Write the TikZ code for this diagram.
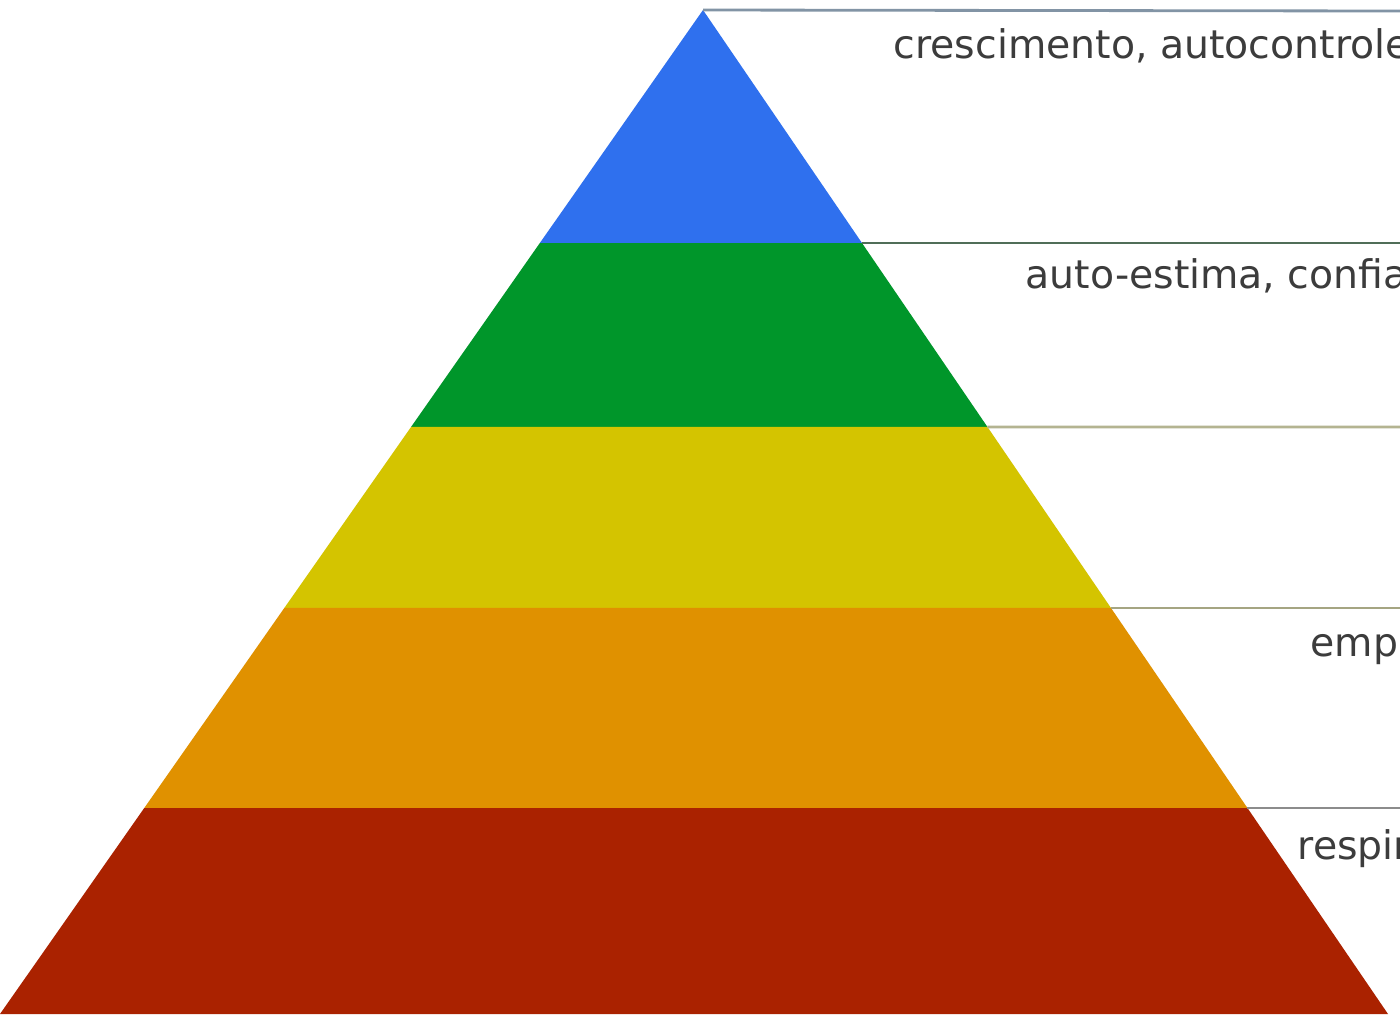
\documentclass[tikz,border=0pt]{standalone}
\usepackage{fontspec}
\setmainfont{DejaVu Sans}
\usetikzlibrary{calc}
\definecolor{cblue}{RGB}{47,112,238}
\definecolor{cgreen}{RGB}{0,150,42}
\definecolor{cyellow}{RGB}{212,196,0}
\definecolor{corange}{RGB}{224,145,0}
\definecolor{cred}{RGB}{170,34,0}
\definecolor{ctext}{RGB}{60,60,60}
\definecolor{lineA}{RGB}{130,148,165}
\definecolor{lineB}{RGB}{80,110,88}
\definecolor{lineC}{RGB}{180,180,145}
\definecolor{lineD}{RGB}{165,165,130}
\definecolor{lineE}{RGB}{140,140,140}
\tikzset{
  band/.style={draw=none},
  leader/.style={line width=0.8pt},
  lbl/.style={anchor=base west, inner sep=0pt, text=ctext, font=\fontsize{11.2pt}{14pt}\selectfont}
}
\begin{document}
\begin{tikzpicture}[x=0.01cm,y=-0.01cm]
\useasboundingbox (0,0) rectangle (1400,1014);
\clip (0,0) rectangle (1400,1014);
\fill[white] (0,0) rectangle (1400,1014);
% pyramid corners
\coordinate (apex) at (703,10);
\coordinate (bl) at (0,1014);
\coordinate (br) at (1388,1014);
% band boundaries
\coordinate (l1) at ($(apex)!0.2321!(bl)$);
\coordinate (r1) at ($(apex)!0.2321!(br)$);
\coordinate (l2) at ($(apex)!0.4153!(bl)$);
\coordinate (r2) at ($(apex)!0.4153!(br)$);
\coordinate (l3) at ($(apex)!0.5956!(bl)$);
\coordinate (r3) at ($(apex)!0.5956!(br)$);
\coordinate (l4) at ($(apex)!0.7948!(bl)$);
\coordinate (r4) at ($(apex)!0.7948!(br)$);
% bands
\fill[band, cblue] (apex) -- (r1) -- (l1) -- cycle;
\fill[band, cgreen] (l1) -- (r1) -- (r2) -- (l2) -- cycle;
\fill[band, cyellow] (l2) -- (r2) -- (r3) -- (l3) -- cycle;
\fill[band, corange] (l3) -- (r3) -- (r4) -- (l4) -- cycle;
\fill[band, cred] (l4) -- (r4) -- (br) -- (bl) -- cycle;
% leader end points at the right border
\coordinate (e0) at (1400,11);
\coordinate (e1) at (1400,245);
\coordinate (e2) at (1400,427);
\coordinate (e3) at (1400,611);
\coordinate (e4) at (1400,808);
\draw[leader, lineA] (apex) -- (e0);
\draw[leader, lineB] (r1) -- (r1 -| e1);
\draw[leader, lineC] (r2) -- (e2);
\draw[leader, lineD] (r3) -- (r3 -| e3);
\draw[leader, lineE] (r4) -- (r4 -| e4);
% labels (cut off by the picture's right edge, as in the reference)
\node[lbl] (t0) at (893,58) {crescimento, autocontrole};
\node[lbl] (t1) at (1025,288) {auto-estima, confiança};
\node[lbl] (t3) at (1310,656) {emprego};
\node[lbl] (t4) at (1297,859) {respiração};
\end{tikzpicture}
\end{document}
